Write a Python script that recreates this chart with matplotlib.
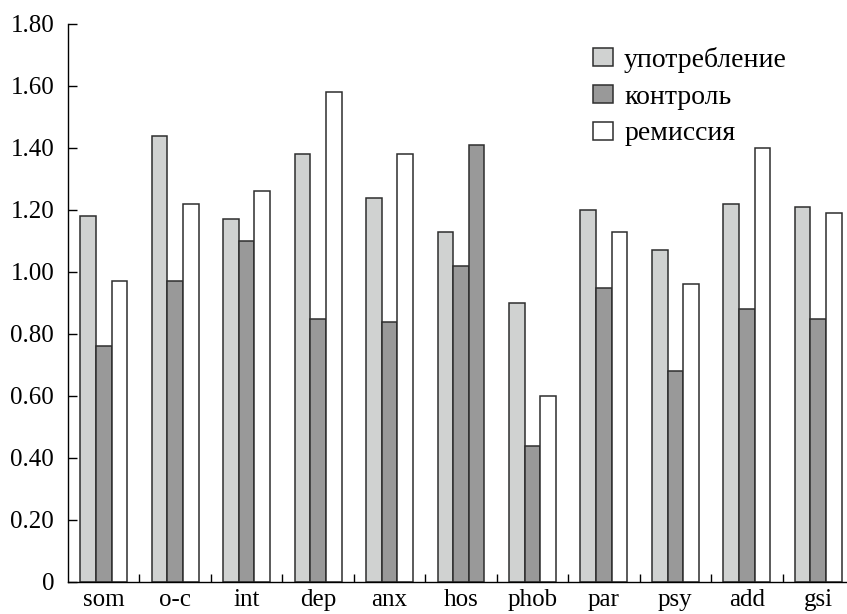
import numpy as np
import matplotlib
matplotlib.use('Agg')
import matplotlib.pyplot as plt
from matplotlib.patches import Patch

plt.rcParams['font.family'] = ['Liberation Serif', 'DejaVu Serif']

categories = ['som', 'o-c', 'int', 'dep', 'anx', 'hos', 'phob', 'par', 'psy', 'add', 'gsi']
series_names = ['употребление', 'контроль', 'ремиссия']
use = [1.18, 1.44, 1.17, 1.38, 1.24, 1.13, 0.90, 1.20, 1.07, 1.22, 1.21]
control = [0.76, 0.97, 1.10, 0.85, 0.84, 1.02, 0.44, 0.95, 0.68, 0.88, 0.85]
remission = [0.97, 1.22, 1.26, 1.58, 1.38, 1.41, 0.60, 1.13, 0.96, 1.40, 1.19]
yticks = [0, 0.2, 0.4, 0.6, 0.8, 1.0, 1.2, 1.4, 1.6, 1.8]
ytick_labels = ['0', '0.20', '0.40', '0.60', '0.80', '1.00', '1.20', '1.40', '1.60', '1.80']

light = '#d0d2d1'
dark = '#999999'
white = '#ffffff'
edge = '#2e2e2e'

fig = plt.figure(figsize=(8.47, 6.14), dpi=100)
ax = fig.add_axes([68 / 847, 32 / 614, 786 / 847, 558 / 614])

x = np.arange(len(categories)) + 0.5
w = 0.219
# remission bar for 'hos' is drawn dark in the original
rem_colors = [dark if c == 'hos' else white for c in categories]
ax.bar(x - w, use, w, color=light, edgecolor=edge, linewidth=1.1)
ax.bar(x, control, w, color=dark, edgecolor=edge, linewidth=1.1)
ax.bar(x + w, remission, w, color=rem_colors, edgecolor=edge, linewidth=1.1)

ax.set_xlim(0, len(categories))
ax.set_ylim(0, 1.8)
ax.set_yticks(yticks)
ax.set_yticklabels(ytick_labels)
ax.set_xticks(x)
ax.set_xticklabels(categories)
ax.set_xticks(np.arange(1, len(categories)), minor=True)

ax.tick_params(axis='x', which='major', length=0, pad=5, labelsize=18)
ax.tick_params(axis='x', which='minor', direction='in', length=6, width=1)
ax.tick_params(axis='y', direction='in', length=6.5, width=1, pad=10, labelsize=18)

for s in ['top', 'right']:
    ax.spines[s].set_visible(False)
for s in ['left', 'bottom']:
    ax.spines[s].set_linewidth(1.0)

handles = [Patch(facecolor=light, edgecolor=edge, linewidth=1.1),
           Patch(facecolor=dark, edgecolor=edge, linewidth=1.1),
           Patch(facecolor=white, edgecolor=edge, linewidth=1.1)]
ax.legend(handles, series_names, loc='upper left', bbox_to_anchor=(593 / 847, 1 - 47 / 614),
          bbox_transform=fig.transFigure, frameon=False, fontsize=20, borderpad=0,
          borderaxespad=0, handlelength=0.72, handleheight=0.62, handletextpad=0.4,
          labelspacing=0.42)

fig.savefig('out.png', dpi=100)
